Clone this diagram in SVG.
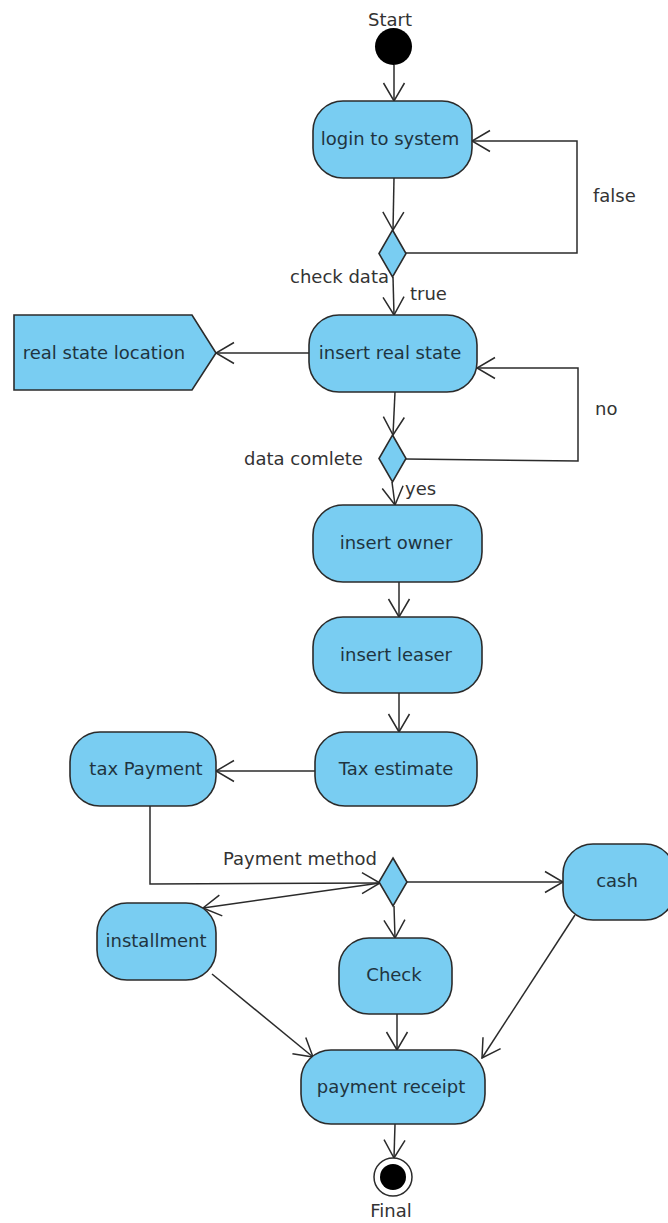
<svg xmlns="http://www.w3.org/2000/svg" width="668" height="1223" viewBox="0 0 668 1223">
<defs>
<marker id="arr" markerUnits="userSpaceOnUse" viewBox="0 0 20 24" markerWidth="20" markerHeight="24" refX="19" refY="12" orient="auto">
<path d="M1,1.5 L19,12 L1,22.5" fill="none" stroke="#2b2b2b" stroke-width="1.5"/>
</marker>
<style>
.node{fill:#79CDF2;stroke:#2b2b2b;stroke-width:1.6}
.t{font-family:"DejaVu Sans",sans-serif;font-size:18px;fill:#1f3440;text-anchor:middle}
.lbl{font-family:"DejaVu Sans",sans-serif;font-size:18px;fill:#333}
.c{fill:none;stroke:#2b2b2b;stroke-width:1.5;marker-end:url(#arr)}
</style>
</defs>
<rect width="668" height="1223" fill="#fff"/>
<g id="connectors">
<path class="c" d="M394,65 L394,101"/>
<path class="c" d="M394,178 L393,230"/>
<path class="c" d="M406,253 L577,253 L577,141 L472,141"/>
<path class="c" d="M393,277 L394,315"/>
<path class="c" d="M309,353 L216,353"/>
<path class="c" d="M395,392 L393,435"/>
<path class="c" d="M406,459 L578,461 L578,368 L477,368"/>
<path class="c" d="M392,482 L395,505"/>
<path class="c" d="M399,582 L399,617"/>
<path class="c" d="M399,693 L399,732"/>
<path class="c" d="M315,771 L216,771"/>
<path class="c" d="M150,806 L150,884 L380,883"/>
<path class="c" d="M407,882 L563,882"/>
<path class="c" d="M380,883 L203,908"/>
<path class="c" d="M394,906 L395,938"/>
<path class="c" d="M397,1014 L397,1050"/>
<path class="c" d="M212,974 L313,1057"/>
<path class="c" d="M575,915 L482,1058"/>
<path class="c" d="M395,1124 L394,1158"/>
</g>
<g id="start">
<circle cx="393.5" cy="46.5" r="18.5" fill="#000"/>
<text class="lbl" x="390" y="26" text-anchor="middle">Start</text>
</g>
<g id="login">
<rect class="node" x="313" y="101" width="159" height="77" rx="30"/>
<text class="t" x="390" y="145">login to system</text>
</g>
<g id="checkData">
<polygon class="node" points="392.5,230 406,253.5 392.5,277 379,253.5"/>
<text class="lbl" x="290" y="283">check data</text>
</g>
<g id="insertRealState">
<rect class="node" x="309" y="315" width="168" height="77" rx="30"/>
<text class="t" x="390" y="359">insert real state</text>
</g>
<g id="realStateLocation">
<polygon class="node" points="14,315 192,315 216,353 192,390 14,390"/>
<text class="t" x="104" y="359">real state location</text>
</g>
<g id="dataComplete">
<polygon class="node" points="392.5,435 406,458.5 392.5,482 379,458.5"/>
<text class="lbl" x="244" y="465">data comlete</text>
</g>
<g id="insertOwner">
<rect class="node" x="313" y="505" width="169" height="77" rx="30"/>
<text class="t" x="396" y="549">insert owner</text>
</g>
<g id="insertLeaser">
<rect class="node" x="313" y="617" width="169" height="76" rx="30"/>
<text class="t" x="396" y="661">insert leaser</text>
</g>
<g id="taxEstimate">
<rect class="node" x="315" y="732" width="162" height="74" rx="30"/>
<text class="t" x="396" y="775">Tax estimate</text>
</g>
<g id="taxPayment">
<rect class="node" x="70" y="732" width="146" height="74" rx="30"/>
<text class="t" x="146" y="775">tax Payment</text>
</g>
<g id="paymentMethod">
<polygon class="node" points="393,858 407,882 393,906 379,882"/>
<text class="lbl" x="223" y="865">Payment method</text>
</g>
<g id="cash">
<rect class="node" x="563" y="844" width="112" height="76" rx="30"/>
<text class="t" x="617" y="887">cash</text>
</g>
<g id="installment">
<rect class="node" x="97" y="903" width="119" height="77" rx="30"/>
<text class="t" x="156" y="947">installment</text>
</g>
<g id="check">
<rect class="node" x="339" y="938" width="113" height="76" rx="30"/>
<text class="t" x="394" y="981">Check</text>
</g>
<g id="paymentReceipt">
<rect class="node" x="301" y="1050" width="184" height="74" rx="30"/>
<text class="t" x="391" y="1093">payment receipt</text>
</g>
<g id="final">
<circle cx="393" cy="1177" r="19" fill="#fff" stroke="#2b2b2b" stroke-width="1.5"/>
<circle cx="393" cy="1177" r="13" fill="#000"/>
<text class="lbl" x="391" y="1217" text-anchor="middle">Final</text>
</g>
<g id="labels">
<text class="lbl" x="593" y="202">false</text>
<text class="lbl" x="410" y="300">true</text>
<text class="lbl" x="595" y="415">no</text>
<text class="lbl" x="405" y="495">yes</text>
</g>
</svg>
